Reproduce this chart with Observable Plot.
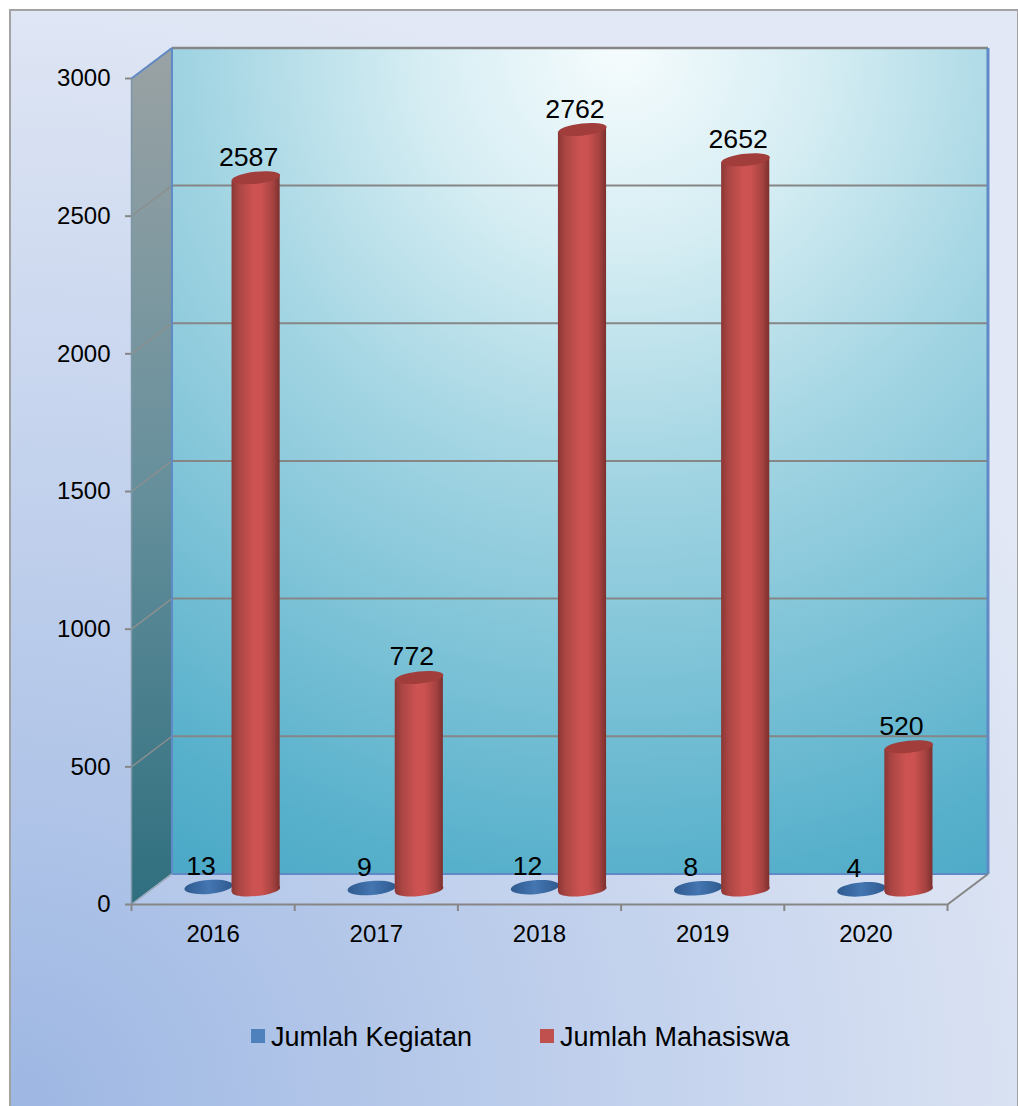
<!DOCTYPE html>
<html>
<head>
<meta charset="utf-8">
<script src="https://cdn.jsdelivr.net/npm/d3@7"></script>
<script src="https://cdn.jsdelivr.net/npm/@observablehq/plot@0.6"></script>
<style>
html,body{margin:0;padding:0;background:#fff;width:1018px;height:1106px;overflow:hidden;font-family:"Liberation Sans",Arial,sans-serif}
#panel{position:absolute;left:9px;top:9px;width:1006px;height:1200px;border:2px solid #a3a3a3;
  background:radial-gradient(circle 1150px at 0 1097px,#9db7e3 0%,#e2e8f5 100%)}
#chart{position:absolute;left:0;top:0}
.lg{position:absolute;font-size:27px;line-height:32px;color:#000;white-space:nowrap}
.sw{position:absolute;width:14px;height:14px}
</style>
</head>
<body>
<div id="panel"></div>
<div id="chart"></div>
<div class="sw" style="left:251px;top:1029px;background:#4f81bd"></div>
<div class="lg" style="left:271px;top:1021px">Jumlah Kegiatan</div>
<div class="sw" style="left:540px;top:1029px;background:#c0504d"></div>
<div class="lg" style="left:560px;top:1021px">Jumlah Mahasiswa</div>
<script>
const years = [2016, 2017, 2018, 2019, 2020];
const jumlahKegiatan = [13, 9, 12, 8, 4];
const jumlahMahasiswa = [2587, 772, 2762, 2652, 520];
const yTicks = [0, 500, 1000, 1500, 2000, 2500, 3000];

const rows = years.map((year, i) => ({year, kegiatan: jumlahKegiatan[i], mahasiswa: jumlahMahasiswa[i]}));
// each cylinder body is a quadrilateral whose ends follow the tilt of its caps
const bodyRows = rows.flatMap(r => [-1, 1].map(side => ({...r, side})));

const x0 = 2015.5, x1 = 2020.5, yMax = 3000;
const depthX = 0.248, depthY = 111;     // depth of the 3-D box, in data units
const halfBar = 0.1475;                 // half the cylinder width, in years
const tiltY = 9;                        // rise of a cap's end, in data units
const axisGrey = "#868686", edgeBlue = "#5f8ac6";

function tilted(rx, ry, deg) {
  const t = deg * Math.PI / 180, c = Math.cos(t), s = Math.sin(t), k = 0.5523;
  const p = (a, b) => [a * rx * c - b * ry * s, a * rx * s + b * ry * c];
  return {draw(ctx) {
    ctx.moveTo(...p(1, 0));
    ctx.bezierCurveTo(...p(1, k), ...p(k, 1), ...p(0, 1));
    ctx.bezierCurveTo(...p(-k, 1), ...p(-1, k), ...p(-1, 0));
    ctx.bezierCurveTo(...p(-1, -k), ...p(-k, -1), ...p(0, -1));
    ctx.bezierCurveTo(...p(k, -1), ...p(1, -k), ...p(1, 0));
    ctx.closePath();
  }};
}
const capSymbol = tilted(24.2, 6, -6);

function defs() {
  const d = d3.create("svg:defs");
  const grad = (type, id, attrs, stops) => {
    const g = d.append(type).attr("id", id);
    Object.entries(attrs).forEach(([k, v]) => g.attr(k, v));
    stops.forEach(([o, c]) => g.append("stop").attr("offset", o).attr("stop-color", c));
  };
  grad("radialGradient", "wall", {cx: 0.55, cy: 0, r: 1.12}, [
    [0, "#f6fcfd"], [0.22, "#d5edf3"], [0.46, "#a3d5e3"], [0.9, "#57b0cb"], [1, "#4caac8"]]);
  grad("linearGradient", "side", {x1: 0, y1: 0, x2: 0, y2: 1}, [
    [0, "#9aa2a4"], [0.5, "#67909c"], [1, "#2f6f7f"]]);
  grad("linearGradient", "red", {x1: 0, y1: 0, x2: 1, y2: 0}, [
    [0, "#8a3634"], [0.14, "#a94543"], [0.45, "#cc5351"], [0.62, "#cb5250"], [0.86, "#a44240"], [1, "#7c302e"]]);
  grad("linearGradient", "blue", {x1: 0, y1: 0, x2: 1, y2: 0}, [
    [0, "#2f5a8f"], [0.5, "#4476b2"], [1, "#2f5a8f"]]);
  return d.node();
}

const chart = Plot.plot({
  width: 1018,
  height: 1000,
  marginLeft: 131,
  marginRight: 71,
  marginTop: 78,
  marginBottom: 96,
  style: {background: "transparent", fontFamily: "Liberation Sans", fontSize: "24px", color: "#000", overflow: "visible"},
  x: {domain: [x0, x1], label: null},
  y: {domain: [0, yMax], label: null},
  marks: [
    defs,
    // back wall
    Plot.rect([{}], {x1: x0 + depthX, x2: x1 + depthX, y1: depthY, y2: yMax + depthY, fill: "url(#wall)"}),
    // left wall
    Plot.area([{a: 0, b: depthY}, {a: yMax, b: yMax + depthY}], {
      x1: x0, y1: "a", x2: x0 + depthX, y2: "b", fill: "url(#side)"}),
    // floor
    Plot.area([{a: x0, b: x0 + depthX}, {a: x1, b: x1 + depthX}], {
      x1: "a", y1: 0, x2: "b", y2: depthY, fill: "#fff", fillOpacity: 0.1}),
    // grid on both walls
    Plot.link(yTicks.slice(1, -1), {x1: x0, y1: d => d, x2: x0 + depthX, y2: d => d + depthY, stroke: "#8b8f90", strokeWidth: 1.5}),
    Plot.link(yTicks.slice(1, -1), {x1: x0 + depthX, y1: d => d + depthY, x2: x1 + depthX, y2: d => d + depthY, stroke: axisGrey, strokeWidth: 2}),
    // box edges
    Plot.link([{}], {x1: x0 + depthX, y1: yMax + depthY, x2: x1 + depthX, y2: yMax + depthY, stroke: axisGrey, strokeWidth: 2.5}),
    Plot.link([{}], {x1: x0, y1: yMax, x2: x0 + depthX, y2: yMax + depthY, stroke: edgeBlue, strokeWidth: 2}),
    Plot.link([{}], {x1: x0 + depthX, y1: depthY, x2: x0 + depthX, y2: yMax + depthY, stroke: edgeBlue, strokeWidth: 2}),
    Plot.link([{}], {x1: x1 + depthX, y1: depthY, x2: x1 + depthX, y2: yMax + depthY, stroke: edgeBlue, strokeWidth: 3}),
    Plot.link([{}], {x1: x0 + depthX, y1: depthY, x2: x1 + depthX, y2: depthY, stroke: edgeBlue, strokeWidth: 2}),
    Plot.link([{}], {x1: x0, y1: 0, x2: x0, y2: yMax, stroke: "#7d97a8", strokeWidth: 1.5}),
    Plot.link([{}], {x1: x0, y1: 0, x2: x0 + depthX, y2: depthY, stroke: "#9aa7b8", strokeWidth: 1.5}),
    Plot.link([{}], {x1: x1, y1: 0, x2: x1 + depthX, y2: depthY, stroke: axisGrey, strokeWidth: 2}),
    // front axis line
    Plot.ruleY([0], {x1: x0, x2: x1, stroke: axisGrey, strokeWidth: 2}),
    // axes
    Plot.axisY({ticks: yTicks, tickSize: 6, tickPadding: 15, stroke: axisGrey, strokeWidth: 2, fill: "#000", tickFormat: "d", label: null}),
    Plot.axisX({ticks: d3.range(x0, x1 + 1), tickSize: 7, stroke: axisGrey, strokeWidth: 2, tickFormat: () => "", label: null}),
    Plot.axisX({ticks: years, tickSize: 0, tickPadding: 20, fill: "#000", tickFormat: "d", label: null}),
    // Jumlah Kegiatan: flat discs
    Plot.dot(rows, {x: "year", y: "kegiatan", dx: -4.5, dy: -14, symbol: tilted(24.3, 7, -5), fill: "url(#blue)", stroke: "none"}),
    // Jumlah Mahasiswa: cylinders
    Plot.dot(rows, {x: "year", y: 0, dx: 43, dy: -14.5, symbol: capSymbol, fill: "url(#red)", stroke: "none"}),
    Plot.area(bodyRows, {
      x1: d => d.year + d.side * halfBar,
      y1: d => d.side * tiltY,
      y2: d => d.mahasiswa + d.side * tiltY,
      z: "year", dx: 43, dy: -14.5, fill: "url(#red)"}),
    Plot.dot(rows, {x: "year", y: "mahasiswa", dx: 43, dy: -14.5, symbol: capSymbol, fill: "#a13d3b", stroke: "none"}),
    // value labels
    Plot.text(rows, {x: "year", y: "kegiatan", text: d => String(d.kegiatan), dx: -12, dy: -26, lineAnchor: "bottom", fill: "#000", fontSize: 26.7}),
    Plot.text(rows, {x: "year", y: "mahasiswa", text: d => String(d.mahasiswa), dx: 35.5, dy: -26.5, lineAnchor: "bottom", fill: "#000", fontSize: 26.7})
  ]
});
document.getElementById("chart").append(chart);
</script>
</body>
</html>
